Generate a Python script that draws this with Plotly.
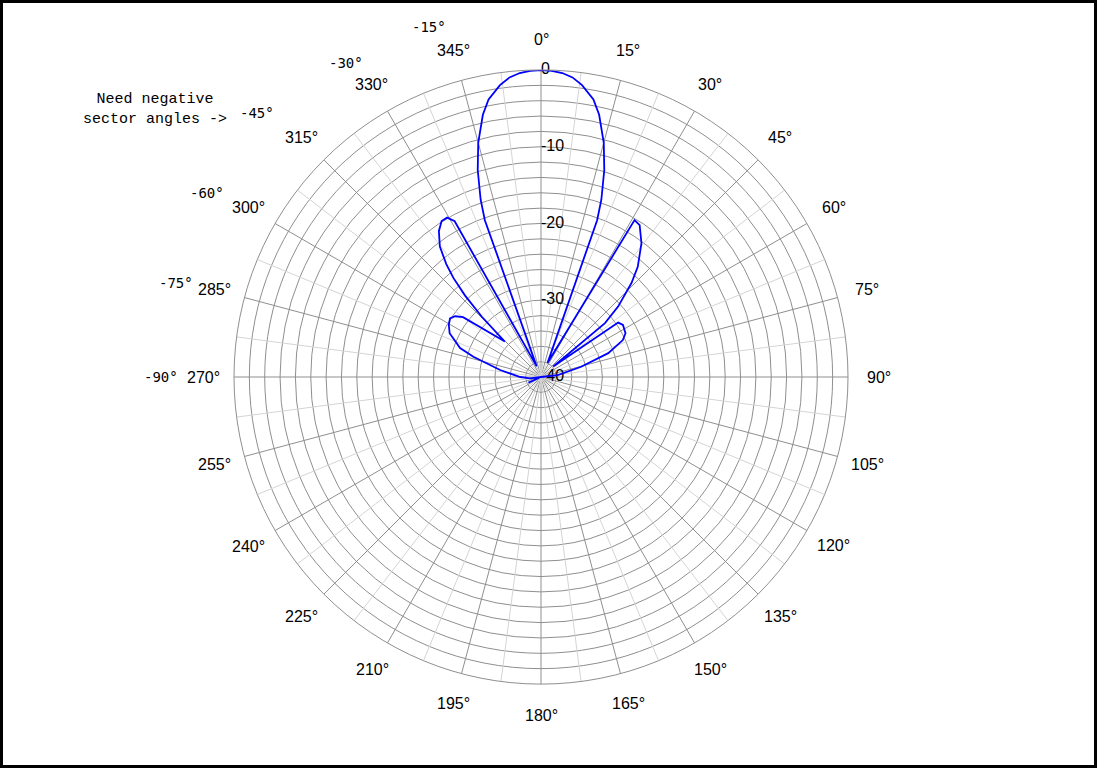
import math
import plotly.graph_objects as go

# ---- data (angle in degrees, clockwise from north; gain in dB) ----
THETA_DEG = [
    -180, -120, -116, -114, -112, -100,
    -96.7, -90, -80.3, -73.3, -70.3, -64.4, -60.5, -57.2, -54.7, -52.5,
    -45.6,
    -44.5, -43, -41.5, -40, -37.8, -35, -32.5, -30.5, -29,
    -22,
    -19.7, -18.8, -17, -15, -12.5, -10.7, -8, -6, -4, -2, 0, 2, 4, 6, 8, 10.7, 12.5, 15, 17, 18.8, 19.7,
    25,
    30.8, 33, 36.9, 41.3, 43.9, 47.6, 49.9,
    49.4,
    54.8, 57.6, 62.6, 65.7, 70.5, 75.7, 83.3, 90, 180,
]
GAIN_DB = [
    -40, -40, -40, -38.2, -40, -40,
    -38.55, -37.3, -34.6, -30.8, -28.8, -26.8, -26.2, -25.9, -26.3, -27.2,
    -33.4,
    -29, -25.5, -22.8, -20.8, -18.5, -16.8, -15.9, -15.9, -16.8,
    -38.5,
    -18.3, -15.6, -11.8, -8.4, -5.0, -3.2, -1.6, -0.75, -0.3, -0.08, 0, -0.08, -0.3, -0.75, -1.6, -3.2, -5.0, -8.4, -11.8, -15.6, -18.3,
    -38,
    -16.2, -16.4, -18.2, -20.9, -23, -26.4, -29.1,
    -37.9,
    -27.7, -27.35, -27.6, -28.3, -30.7, -34.6, -37.8, -40, -40,
]

R_MIN, R_MAX = -40, 0
RADIAL_LABELED = [-40, -30, -20, -10, 0]
RADIAL_GRID = list(range(-40, 1, 2))
ANGLE_STEP = 15
ANGLE_TICKS = list(range(0, 360, ANGLE_STEP))
ANGLE_TICK_TEXT = [f"{a}°" for a in ANGLE_TICKS]
NEG_LABELS = ["-15°", "-30°", "-45°", "-60°", "-75°", "-90°"]
NOTE_TEXT = "Need negative<br>sector angles ->"

W, H = 1097, 768
CX, CY, RAD = 541, 377, 307  # pixel layout of the polar area
LABEL_RAD = 338               # pixel radius of angular tick label centres

MAJOR = "#8f8f8f"
MINOR = "#d4d4d4"
SANS = "Liberation Sans, Arial, sans-serif"

fig = go.Figure()

# minor spokes (half-way between the 15 degree grid lines)
for a in [ANGLE_STEP / 2 + ANGLE_STEP * k for k in range(360 // ANGLE_STEP)]:
    fig.add_trace(go.Scatterpolar(
        theta=[a, a], r=[R_MIN, R_MAX], mode="lines",
        line=dict(color=MINOR, width=1), hoverinfo="skip", showlegend=False,
    ))

# radial tick labels along the 0 degree spoke
fig.add_trace(go.Scatterpolar(
    theta=[0] * len(RADIAL_LABELED), r=RADIAL_LABELED,
    text=[str(v) for v in RADIAL_LABELED], mode="text", textposition="middle right",
    textfont=dict(family=SANS, size=16, color="black"),
    hoverinfo="skip", showlegend=False, cliponaxis=False,
))

fig.add_trace(go.Scatterpolar(
    theta=THETA_DEG, r=GAIN_DB, mode="lines",
    line=dict(color="#0000ff", width=1.8), showlegend=False, name="pattern",
))

dx0 = (CX - RAD) / W
dx1 = (CX + RAD) / W
dy0 = (H - CY - RAD) / H
dy1 = (H - CY + RAD) / H

fig.update_layout(
    width=W, height=H,
    margin=dict(l=0, r=0, t=0, b=0),
    paper_bgcolor="white",
    font=dict(family=SANS, size=16, color="black"),
    polar=dict(
        domain=dict(x=[dx0, dx1], y=[dy0, dy1]),
        bgcolor="white",
        angularaxis=dict(
            rotation=90, direction="clockwise",
            tickmode="linear", tick0=0, dtick=ANGLE_STEP,
            showgrid=True, gridcolor=MAJOR, gridwidth=1,
            showline=True, linecolor=MAJOR, linewidth=1,
            ticks="", showticklabels=False,
        ),
        radialaxis=dict(
            range=[R_MIN, R_MAX], angle=90,
            tickmode="array", tickvals=RADIAL_GRID,
            showgrid=True, gridcolor=MAJOR, gridwidth=1,
            showline=False, ticks="", showticklabels=False,
        ),
    ),
)

# angular tick labels
for a, txt in zip(ANGLE_TICKS, ANGLE_TICK_TEXT):
    px = CX + LABEL_RAD * math.sin(math.radians(a))
    py = CY - LABEL_RAD * math.cos(math.radians(a))
    fig.add_annotation(
        x=px / W, y=1 - py / H, xref="paper", yref="paper", text=txt, showarrow=False,
        font=dict(family=SANS, size=16, color="black"),
        xanchor="center", yanchor="middle",
    )

# negative-angle labels and the note
neg_pos = [(429, 27), (346, 63), (257, 113), (207, 193), (176, 283), (161, 377)]
for txt, (px, py) in zip(NEG_LABELS, neg_pos):
    fig.add_annotation(
        x=px / W, y=1 - py / H, xref="paper", yref="paper", text=txt, showarrow=False,
        font=dict(family="DejaVu Sans Mono, monospace", size=14, color="black"),
        xanchor="center", yanchor="middle",
    )
fig.add_annotation(
    x=155 / W, y=1 - 109 / H, xref="paper", yref="paper", text=NOTE_TEXT, showarrow=False,
    font=dict(family="Courier New, Liberation Mono, monospace", size=15, color="black"),
    xanchor="center", yanchor="middle", align="center",
)

# outer frame
fig.add_shape(type="rect", xref="paper", yref="paper",
              x0=1.5 / W, x1=1 - 1.5 / W, y0=1.5 / H, y1=1 - 1.5 / H,
              line=dict(color="black", width=3), fillcolor="rgba(0,0,0,0)")

fig.write_html("out.html", config={"displayModeBar": False},
               post_script="document.body.style.margin='0';")
